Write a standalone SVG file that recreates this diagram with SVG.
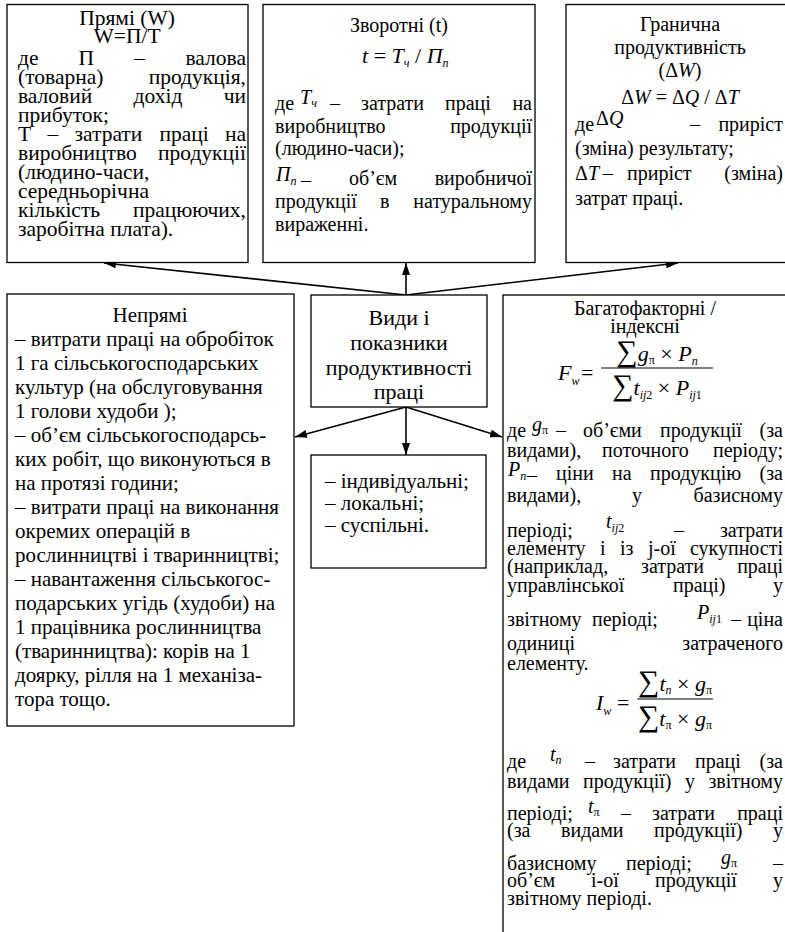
<svg xmlns="http://www.w3.org/2000/svg" width="785" height="932" viewBox="0 0 785 932">
<defs>
<style>
.t{font-family:"Liberation Serif","Times New Roman",serif;font-size:20px;fill:#000}
.tl{font-size:21.5px}
.lb{font-size:21px}
.cb{font-size:22px}
.i{font-style:italic}
.s{font-size:12px}
.e{text-anchor:end}
.m{text-anchor:middle}
.fm{font-size:22px}
.sum{font-size:30px;font-style:normal}
.box{fill:#fff;stroke:#000;stroke-width:1.3}
.c{stroke:#000;stroke-width:1.6;fill:none}
.bar{stroke:#000;stroke-width:1}
</style>
<marker id="ah" viewBox="0 0 12 8" refX="12" refY="4" markerWidth="12" markerHeight="8" markerUnits="userSpaceOnUse" orient="auto"><path d="M0,0 L12,4 L0,8 z" fill="#000"/></marker>
</defs>
<rect width="785" height="932" fill="#fff"/>

<g id="connectors">
<line class="c" x1="406" y1="295" x2="104" y2="263" marker-end="url(#ah)"/>
<line class="c" x1="406" y1="295" x2="406" y2="263" marker-end="url(#ah)"/>
<line class="c" x1="406" y1="295" x2="678" y2="263" marker-end="url(#ah)"/>
<line class="c" x1="406" y1="407" x2="295" y2="437" marker-end="url(#ah)"/>
<line class="c" x1="406" y1="407" x2="406" y2="455" marker-end="url(#ah)"/>
<line class="c" x1="406" y1="407" x2="502" y2="437" marker-end="url(#ah)"/>
</g>

<g id="node-direct">
<rect class="box" x="7" y="4.5" width="241" height="258"/>
<text class="t tl m" x="127" y="25">Прямі (W)</text>
<text class="t tl m" x="127" y="43">W=П/Т</text>
<text class="t tl" y="65"><tspan x="18">де</tspan><tspan x="78.5">П</tspan><tspan x="134">–</tspan></text><text class="t tl e" x="246" y="65">валова</text>
<text class="t tl" x="18" y="84">(товарна)</text><text class="t tl e" x="246" y="84">продукція,</text>
<text class="t tl" y="103"><tspan x="18">валовий</tspan><tspan x="133.5">дохід</tspan></text><text class="t tl e" x="246" y="103">чи</text>
<text class="t tl" x="18" y="122">прибуток;</text>
<text class="t tl" y="141"><tspan x="18">Т</tspan><tspan x="47.4">–</tspan><tspan x="74.5">затрати</tspan><tspan x="159.4">праці</tspan></text><text class="t tl e" x="246" y="141">на</text>
<text class="t tl" x="18" y="160">виробництво</text><text class="t tl e" x="246" y="160">продукції</text>
<text class="t tl" x="18" y="179">(людино-часи,</text>
<text class="t tl" x="18" y="198">середньорічна</text>
<text class="t tl" x="18" y="217">кількість</text><text class="t tl e" x="246" y="217">працюючих,</text>
<text class="t tl" x="18" y="236">заробітна плата).</text>
</g>

<g id="node-inverse">
<rect class="box" x="263" y="4.5" width="272" height="258"/>
<text class="t m" x="399" y="32">Зворотні (t)</text>
<text class="t fm" x="362" y="63"><tspan class="i">t</tspan> = <tspan class="i">T</tspan><tspan class="s i" dy="4">ч</tspan><tspan dy="-4"> / </tspan><tspan class="i">П</tspan><tspan class="s i" dy="4">n</tspan></text>
<text class="t" x="275" y="110">де</text>
<text class="t i" x="300" y="104">T<tspan class="s" dy="3">ч</tspan></text>
<text class="t" y="110"><tspan x="330">–</tspan><tspan x="361">затрати</tspan><tspan x="445">праці</tspan></text><text class="t e" x="532" y="110">на</text>
<text class="t" x="275" y="133">виробництво</text><text class="t e" x="532" y="133">продукції</text>
<text class="t" x="275" y="155">(людино-часи);</text>
<text class="t i" x="276" y="181">П<tspan class="s" dy="4">n</tspan></text>
<text class="t" x="301" y="187">–</text>
<text class="t" x="349" y="185">об’єм</text><text class="t e" x="532" y="185">виробничої</text>
<text class="t" y="208"><tspan x="275">продукції</tspan><tspan x="380">в</tspan></text><text class="t e" x="532" y="208">натуральному</text>
<text class="t" x="275" y="231">вираженні.</text>
</g>

<g id="node-marginal">
<rect class="box" x="566" y="4.5" width="240" height="258"/>
<text class="t m" x="680" y="31">Гранична</text>
<text class="t m" x="680" y="54">продуктивність</text>
<text class="t m" x="680" y="77">(Δ<tspan class="i">W</tspan>)</text>
<text class="t m" x="680" y="104">Δ<tspan class="i">W</tspan> = Δ<tspan class="i">Q</tspan> / Δ<tspan class="i">T</tspan></text>
<text class="t" x="575" y="131">де</text>
<text class="t" x="596" y="125">Δ<tspan class="i">Q</tspan></text>
<text class="t" x="690" y="131">–</text><text class="t e" x="783" y="131">приріст</text>
<text class="t" x="575" y="155">(зміна) результату;</text>
<text class="t" x="575" y="180">Δ<tspan class="i">T</tspan></text>
<text class="t" y="180"><tspan x="603">–</tspan><tspan x="627">приріст</tspan></text><text class="t e" x="783" y="180">(зміна)</text>
<text class="t" x="575" y="205">затрат праці.</text>
</g>

<g id="node-center">
<rect class="box" x="311" y="295" width="176" height="112"/>
<text class="t cb m" x="399" y="325">Види і</text>
<text class="t cb m" x="399" y="350">показники</text>
<text class="t cb m" x="399" y="375">продуктивності</text>
<text class="t cb m" x="399" y="399">праці</text>
</g>

<g id="node-indirect">
<rect class="box" x="7" y="294" width="287" height="432"/>
<text class="t lb m" x="150" y="322">Непрямі</text>
<text class="t lb" x="15" y="346">– витрати праці на обробіток</text>
<text class="t lb" x="15" y="370">1 га сільськогосподарських</text>
<text class="t lb" x="15" y="394">культур (на обслуговування</text>
<text class="t lb" x="15" y="418">1 голови худоби );</text>
<text class="t lb" x="15" y="442">– об’єм сільськогосподарсь-</text>
<text class="t lb" x="15" y="466">ких робіт, що виконуються в</text>
<text class="t lb" x="15" y="490">на протязі години;</text>
<text class="t lb" x="15" y="514">– витрати праці на виконання</text>
<text class="t lb" x="15" y="538">окремих операцій в</text>
<text class="t lb" x="15" y="562">рослинництві і тваринництві;</text>
<text class="t lb" x="15" y="586">– навантаження сільськогос-</text>
<text class="t lb" x="15" y="610">подарських угідь (худоби) на</text>
<text class="t lb" x="15" y="634">1 працівника рослинництва</text>
<text class="t lb" x="15" y="658">(тваринництва): корів на 1</text>
<text class="t lb" x="15" y="682">доярку, рілля на 1 механіза-</text>
<text class="t lb" x="15" y="706">тора тощо.</text>
</g>

<g id="node-levels">
<rect class="box" x="311" y="455" width="175" height="113"/>
<text class="t lb" x="325" y="488">– індивідуальні;</text>
<text class="t lb" x="325" y="510">– локальні;</text>
<text class="t lb" x="325" y="532">– суспільні.</text>
</g>

<g id="node-multifactor">
<rect class="box" x="503" y="295" width="300" height="700"/>
<text class="t m" x="645" y="315">Багатофакторні /</text>
<text class="t m" x="645" y="333">індексні</text>
<text class="t fm i" x="558" y="380">F<tspan class="s" dy="5">w</tspan></text>
<text class="t fm" x="581" y="380">=</text>
<line class="bar" x1="601" y1="368" x2="713" y2="368"/>
<text class="t fm m" x="657" y="361"><tspan class="sum">∑</tspan><tspan class="i">g</tspan><tspan class="s" dy="3">π</tspan><tspan dy="-3"> × </tspan><tspan class="i">P</tspan><tspan class="s i" dy="4">n</tspan></text>
<text class="t fm m" x="657" y="395"><tspan class="sum">∑</tspan><tspan class="i">t</tspan><tspan class="s" dy="4"><tspan class="i">ij</tspan>2</tspan><tspan dy="-4"> × </tspan><tspan class="i">P</tspan><tspan class="s" dy="4"><tspan class="i">ij</tspan>1</tspan></text>

<text class="t" x="507" y="437">де</text>
<text class="t i" x="532" y="431">g<tspan class="s" style="font-style:normal" dy="3">π</tspan></text>
<text class="t" y="437"><tspan x="556">–</tspan><tspan x="583">об’єми</tspan><tspan x="660">продукції</tspan></text><text class="t e" x="783" y="437">(за</text>
<text class="t" y="457"><tspan x="507">видами),</tspan><tspan x="602">поточного</tspan></text><text class="t e" x="783" y="457">періоду;</text>
<text class="t i" x="508" y="476">P<tspan class="s" dy="4">n</tspan></text>
<text class="t" x="527" y="482">–</text>
<text class="t" y="480"><tspan x="556">ціни</tspan><tspan x="612">на</tspan><tspan x="650">продукцію</tspan></text><text class="t e" x="783" y="480">(за</text>
<text class="t" y="502"><tspan x="507">видами),</tspan><tspan x="632">у</tspan></text><text class="t e" x="783" y="502">базисному</text>
<text class="t" x="507" y="537">періоді;</text>
<text class="t i" x="606" y="528">t<tspan class="s" dy="4">ij<tspan style="font-style:normal">2</tspan></tspan></text>
<text class="t" x="674" y="537">–</text><text class="t e" x="783" y="537">затрати</text>
<text class="t" y="555"><tspan x="507">елементу</tspan><tspan x="600">і</tspan><tspan x="620">із</tspan><tspan x="648">j-ої</tspan></text><text class="t e" x="783" y="555">сукупності</text>
<text class="t" y="573"><tspan x="507">(наприклад,</tspan><tspan x="641">затрати</tspan></text><text class="t e" x="783" y="573">праці</text>
<text class="t" y="592"><tspan x="507">управлінської</tspan><tspan x="673">праці)</tspan></text><text class="t e" x="783" y="592">у</text>
<text class="t" y="626"><tspan x="507">звітному</tspan><tspan x="592">періоді;</tspan></text>
<text class="t i" x="697" y="619">P<tspan class="s" dy="4">ij<tspan style="font-style:normal">1</tspan></tspan></text>
<text class="t" x="731" y="626">–</text><text class="t e" x="783" y="626">ціна</text>
<text class="t" x="507" y="650">одиниці</text><text class="t e" x="783" y="650">затраченого</text>
<text class="t" x="507" y="670">елементу.</text>
<text class="t fm i" x="596" y="710">I<tspan class="s" dy="5">w</tspan></text>
<text class="t fm" x="617" y="710">=</text>
<line class="bar" x1="637" y1="699" x2="713" y2="699"/>
<text class="t fm m" x="675" y="691"><tspan class="sum">∑</tspan><tspan class="i">t</tspan><tspan class="s i" dy="3">n</tspan><tspan dy="-3"> × </tspan><tspan class="i">g</tspan><tspan class="s" dy="3">π</tspan></text>
<text class="t fm m" x="675" y="726"><tspan class="sum">∑</tspan><tspan class="i">t</tspan><tspan class="s" dy="3">π</tspan><tspan dy="-3"> × </tspan><tspan class="i">g</tspan><tspan class="s" dy="3">π</tspan></text>

<text class="t" x="507" y="768">де</text>
<text class="t i" x="550" y="761">t<tspan class="s" dy="3">n</tspan></text>
<text class="t" y="768"><tspan x="585">–</tspan><tspan x="613">затрати</tspan><tspan x="695">праці</tspan></text><text class="t e" x="783" y="768">(за</text>
<text class="t" y="788"><tspan x="507">видами</tspan><tspan x="583">продукції)</tspan><tspan x="685">у</tspan></text><text class="t e" x="783" y="788">звітному</text>
<text class="t" x="507" y="820">періоді;</text>
<text class="t i" x="588" y="813">t<tspan class="s" style="font-style:normal" dy="3">π</tspan></text>
<text class="t" y="820"><tspan x="621">–</tspan><tspan x="652">затрати</tspan></text><text class="t e" x="783" y="820">праці</text>
<text class="t" y="837"><tspan x="507">(за</tspan><tspan x="561">видами</tspan><tspan x="654">продукції)</tspan></text><text class="t e" x="783" y="837">у</text>
<text class="t" y="870"><tspan x="507">базисному</tspan><tspan x="626">періоді;</tspan></text>
<text class="t i" x="721" y="864">g<tspan class="s" style="font-style:normal" dy="3">π</tspan></text>
<text class="t e" x="783" y="870">–</text>
<text class="t" y="887"><tspan x="507">об’єм</tspan><tspan x="591">і-ої</tspan><tspan x="655">продукції</tspan></text><text class="t e" x="783" y="887">у</text>
<text class="t" x="507" y="905">звітному періоді.</text>
</g>
</svg>
